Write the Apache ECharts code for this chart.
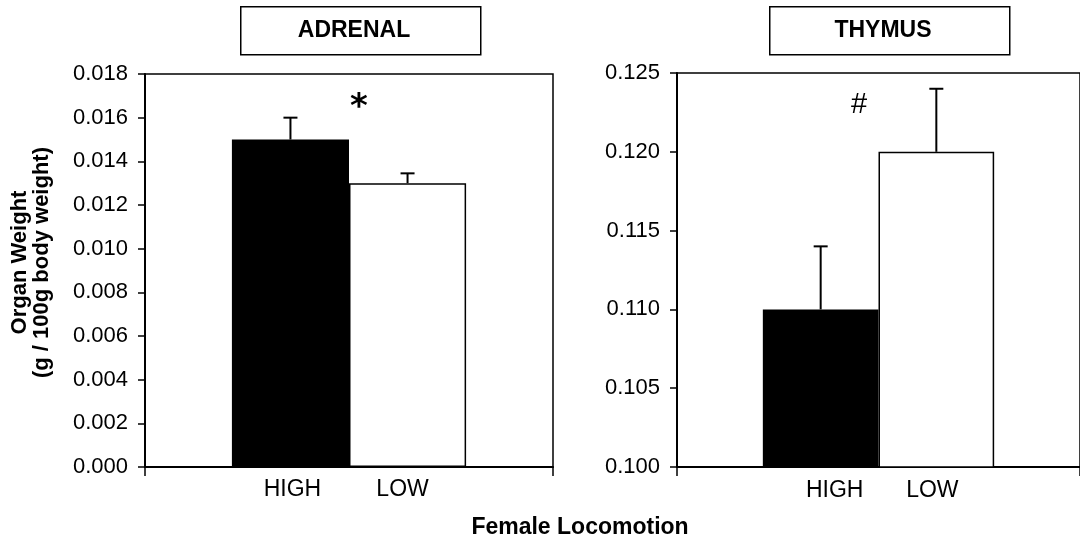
<!DOCTYPE html>
<html><head><meta charset="utf-8">
<script src="https://cdn.jsdelivr.net/npm/echarts@6/dist/echarts.min.js"></script>
<style>html,body{margin:0;padding:0;background:#fff}#c{width:1080px;height:544px}</style>
</head><body><div id="c"></div>
<script>
// ---- data ----
const groups = ['HIGH', 'LOW'];
const panels = ['ADRENAL', 'THYMUS'];
const adrenalMeans = [0.0150, 0.0130];
const adrenalErrors = [0.0010, 0.00045];
const thymusMeans = [0.110, 0.120];
const thymusErrors = [0.004, 0.004];
const adrenalAxis = [0.000, 0.018, 0.002];   // min, max, interval
const thymusAxis = [0.100, 0.125, 0.005];
const marks = ['*', '#'];
const xTitle = 'Female Locomotion';
const yTitle = 'Organ Weight\n(g / 100g body weight)';

// ---- styles ----
const FONT = '"Liberation Sans", Arial, Helvetica, sans-serif';
const GAP = 0.426;
const panelDefs = [
  { means: adrenalMeans, errs: adrenalErrors, axis: adrenalAxis, labelOffsets: [[2, 0], [-5, 0]] },
  { means: thymusMeans, errs: thymusErrors, axis: thymusAxis, labelOffsets: [[14, 0], [-4, 0]] }
];
const grids = [
  { left: 145, top: 74, width: 408, height: 393 },
  { left: 677, top: 73, width: 410, height: 394 }
];

function errRender(params, api) {
  const v = api.value(1), e = api.value(2), k = api.value(3);
  const band = api.size([1, 0])[0];
  const bw = band * (1 - GAP) / 2;
  const c = api.coord([0, v]);
  const t = api.coord([0, v + e]);
  const x = c[0] + (k === 0 ? -bw / 2 : bw / 2);
  return { type: 'group', children: [
    { type: 'line', shape: { x1: x, y1: c[1], x2: x, y2: t[1] }, style: { stroke: '#000', lineWidth: 2 } },
    { type: 'line', shape: { x1: x - 7, y1: t[1], x2: x + 7, y2: t[1] }, style: { stroke: '#000', lineWidth: 2 } }
  ]};
}

const xAxes = [], yAxes = [], series = [];
panelDefs.forEach((p, i) => {
  xAxes.push({
    type: 'category', gridIndex: i, data: [''],
    axisLine: { lineStyle: { color: '#000', width: 2 } },
    axisTick: { show: true, length: 9, lineStyle: { color: '#000', width: 1.5 } },
    axisLabel: { show: false }, splitLine: { show: false }
  });
  yAxes.push({
    type: 'value', gridIndex: i, min: p.axis[0], max: p.axis[1], interval: p.axis[2],
    axisLine: { show: true, lineStyle: { color: '#000', width: 2 } },
    axisTick: { show: true, length: 7, lineStyle: { color: '#000', width: 1.5 } },
    axisLabel: { color: '#000', fontSize: 22, fontFamily: FONT, margin: 17,
      formatter: v => v.toFixed(3) },
    splitLine: { show: false },
    name: i === 0 ? yTitle : '', nameLocation: 'middle', nameRotate: 90, nameGap: 92,
    nameTextStyle: { color: '#000', fontWeight: 'bold', fontSize: 22, lineHeight: 22, fontFamily: FONT,
      padding: [0, 0, 0, 16] }
  });
  groups.forEach((g, k) => {
    series.push({
      type: 'bar', name: g, xAxisIndex: i, yAxisIndex: i,
      data: [p.means[k]], barGap: '0%', barCategoryGap: (GAP * 100) + '%',
      itemStyle: { color: k === 0 ? '#000' : '#fff', borderColor: '#000', borderWidth: 1.5 },
      label: { show: true, position: 'bottom', distance: 11, formatter: '{a}',
        color: '#000', fontSize: 23, fontFamily: FONT, offset: p.labelOffsets[k] },
      silent: true, animation: false
    });
  });
  series.push({
    type: 'custom', xAxisIndex: i, yAxisIndex: i, renderItem: errRender, z: 5,
    data: groups.map((g, k) => [0, p.means[k], p.errs[k], k]), animation: false, silent: true
  });
});

const boxes = [{ x: 240, y: 6 }, { x: 769, y: 6 }];
const graphic = [];
panels.forEach((t, i) => {
  graphic.push({ type: 'rect', left: boxes[i].x, top: boxes[i].y, shape: { width: 240, height: 48 },
    style: { fill: '#fff', stroke: '#000', lineWidth: 1.5 } });
  graphic.push({ type: 'text', x: boxes[i].x + 114, y: boxes[i].y + 25,
    style: { text: t, fill: '#000', font: 'bold 23px ' + FONT, textAlign: 'center', textVerticalAlign: 'middle' } });
});
graphic.push({ type: 'text', x: 359, y: 108,
  style: { text: marks[0], fill: '#000', font: 'bold 34px "DejaVu Sans", sans-serif', textAlign: 'center', textVerticalAlign: 'middle' } });
graphic.push({ type: 'text', x: 859, y: 105,
  style: { text: marks[1], fill: '#000', font: '29px ' + FONT, textAlign: 'center', textVerticalAlign: 'middle' } });
graphic.push({ type: 'text', x: 580, y: 528,
  style: { text: xTitle, fill: '#000', font: 'bold 23px ' + FONT, textAlign: 'center', textVerticalAlign: 'middle' } });

const chart = echarts.init(document.getElementById('c'));
chart.setOption({
  backgroundColor: '#fff',
  animation: false,
  grid: grids.map(g => Object.assign({ show: true, borderColor: '#000', borderWidth: 1.5, backgroundColor: 'transparent', containLabel: false }, g)),
  xAxis: xAxes, yAxis: yAxes, series: series, graphic: graphic
});
</script></body></html>
